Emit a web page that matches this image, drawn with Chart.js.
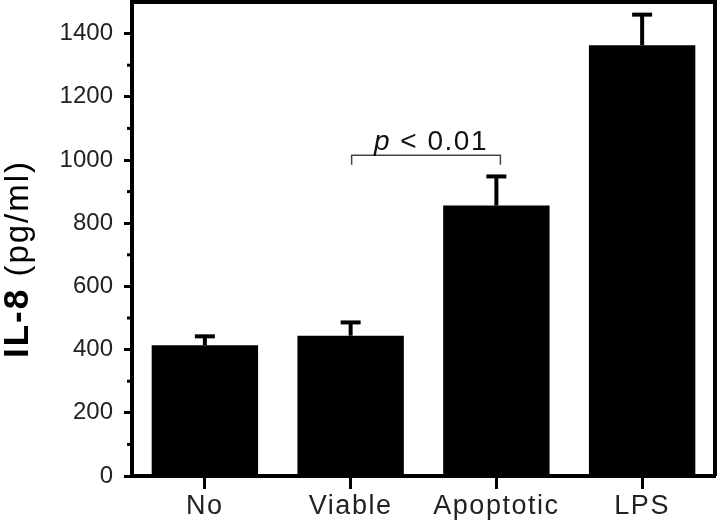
<!DOCTYPE html>
<html>
<head>
<meta charset="utf-8">
<script src="https://cdn.jsdelivr.net/npm/chart.js@4/dist/chart.umd.min.js"></script>
<style>
  html, body { margin: 0; padding: 0; background: #fff; }
  #wrap { width: 720px; height: 526px; }
</style>
</head>
<body>
<div id="wrap"><canvas id="mainChart" width="720" height="526"></canvas></div>
<script>
    const categorias = ['No', 'Viable', 'Apoptotic', 'LPS'];
    const valores = [414, 444, 856, 1363];
    const errores = [28, 42, 92, 97];
    const yTicks = [0, 200, 400, 600, 800, 1000, 1200, 1400];
    const yMinor = [100, 300, 500, 700, 900, 1100, 1300];
    const signif = { desde: 1, hasta: 2, nivel: 1015, pata: 985, texto: 'p < 0.01' };

    const FONT = '"Liberation Sans", Arial, sans-serif';

    // barras de error, marco, ticks menores, corchete y titulo del eje
    const extras = {
        id: 'extras',
        afterDatasetsDraw(chart) {
            const ctx = chart.ctx;
            const x = chart.scales.x, y = chart.scales.y;
            const area = chart.chartArea;
            ctx.save();
            ctx.strokeStyle = '#000';
            ctx.lineCap = 'butt';

            // error bars (solo hacia arriba)
            valores.forEach((v, i) => {
                const cx = x.getPixelForValue(i);
                const y0 = y.getPixelForValue(v);
                const y1 = y.getPixelForValue(v + errores[i]);
                ctx.lineWidth = 4;
                ctx.beginPath(); ctx.moveTo(cx, y0); ctx.lineTo(cx, y1); ctx.stroke();
                ctx.beginPath(); ctx.moveTo(cx - 10, y1); ctx.lineTo(cx + 10, y1); ctx.stroke();
            });

            // marco superior y derecho
            ctx.lineWidth = 4;
            ctx.beginPath();
            ctx.moveTo(area.left, area.top);
            ctx.lineTo(area.right, area.top);
            ctx.lineTo(area.right, area.bottom);
            ctx.stroke();

            // ticks menores
            ctx.lineWidth = 3;
            yMinor.forEach(t => {
                const py = y.getPixelForValue(t);
                ctx.beginPath(); ctx.moveTo(area.left, py); ctx.lineTo(area.left - 5, py); ctx.stroke();
            });

            // corchete de significancia
            const xa = x.getPixelForValue(signif.desde) + 1;
            const xb = x.getPixelForValue(signif.hasta) + 4;
            const yc = y.getPixelForValue(signif.nivel);
            const yp = y.getPixelForValue(signif.pata);
            ctx.lineWidth = 1.5;
            ctx.strokeStyle = '#444';
            ctx.beginPath();
            ctx.moveTo(xa, yp); ctx.lineTo(xa, yc); ctx.lineTo(xb, yc); ctx.lineTo(xb, yp);
            ctx.stroke();

            ctx.fillStyle = '#111';
            ctx.textBaseline = 'alphabetic';
            ctx.letterSpacing = '1.5px';
            const partes = signif.texto.split(' ');
            ctx.font = 'italic 28px ' + FONT;
            const wP = ctx.measureText('p').width;
            ctx.font = '28px ' + FONT;
            const resto = ' ' + partes.slice(1).join(' ');
            const wR = ctx.measureText(resto).width;
            let tx = (xa + xb) / 2 - (wP + wR) / 2 + 5;
            ctx.font = 'italic 28px ' + FONT;
            ctx.fillText('p', tx, yc - 5);
            ctx.font = '28px ' + FONT;
            ctx.fillText(resto, tx + wP, yc - 5);

            // titulo eje Y: "IL-8" en negrita + " (pg/ml)"
            ctx.translate(28, 358);
            ctx.rotate(-Math.PI / 2);
            ctx.fillStyle = '#000';
            ctx.textBaseline = 'alphabetic';
            ctx.letterSpacing = '2px';
            ctx.font = 'bold 35px ' + FONT;
            ctx.fillText('IL-8', 0, 0);
            const w1 = ctx.measureText('IL-8').width;
            ctx.letterSpacing = '2px';
            ctx.font = '33px ' + FONT;
            ctx.fillText(' (pg/ml)', w1, 0);
            ctx.restore();
        }
    };

    // etiquetas del eje X un poco espaciadas, como en el original
    function espaciarX(s) {
        if (s._espaciado) return;
        const orig = s.drawLabels.bind(s);
        s.drawLabels = function (area) {
            const c = this.ctx;
            c.save();
            c.letterSpacing = '1.5px';
            orig(area);
            c.restore();
        };
        s._espaciado = true;
    }

    const ctx = document.getElementById('mainChart').getContext('2d');
    const myChart = new Chart(ctx, {
        type: 'bar',
        data: {
            labels: categorias,
            datasets: [{
                data: valores,
                backgroundColor: '#000',
                borderWidth: 0,
                categoryPercentage: 0.73,
                barPercentage: 1.0
            }]
        },
        options: {
            responsive: false,
            animation: false,
            layout: { padding: { top: 2, right: 5, left: 0, bottom: 0 } },
            plugins: { legend: { display: false }, tooltip: { enabled: false } },
            scales: {
                x: {
                    afterFit: s => { s.height = 50; s.paddingLeft = 0; s.paddingRight = 0; },
                    afterUpdate: espaciarX,
                    grid: { offset: false, drawOnChartArea: false, drawTicks: true, tickLength: 13, tickWidth: 3, tickColor: '#000' },
                    border: { display: true, color: '#000', width: 4 },
                    ticks: { color: '#222', font: { family: FONT, size: 27 }, padding: 1 }
                },
                y: {
                    min: 0, max: 1500,
                    afterFit: s => { s.width = 132; s.paddingTop = 0; s.paddingBottom = 0; },
                    afterBuildTicks: s => { s.ticks = yTicks.map(v => ({ value: v })); },
                    grid: { drawOnChartArea: false, drawTicks: true, tickLength: 8, tickWidth: 3, tickColor: '#000' },
                    border: { display: true, color: '#000', width: 4 },
                    ticks: { color: '#222', font: { family: FONT, size: 24 }, padding: 11, callback: v => String(v) }
                }
            }
        },
        plugins: [extras]
    });
</script>
</body>
</html>
